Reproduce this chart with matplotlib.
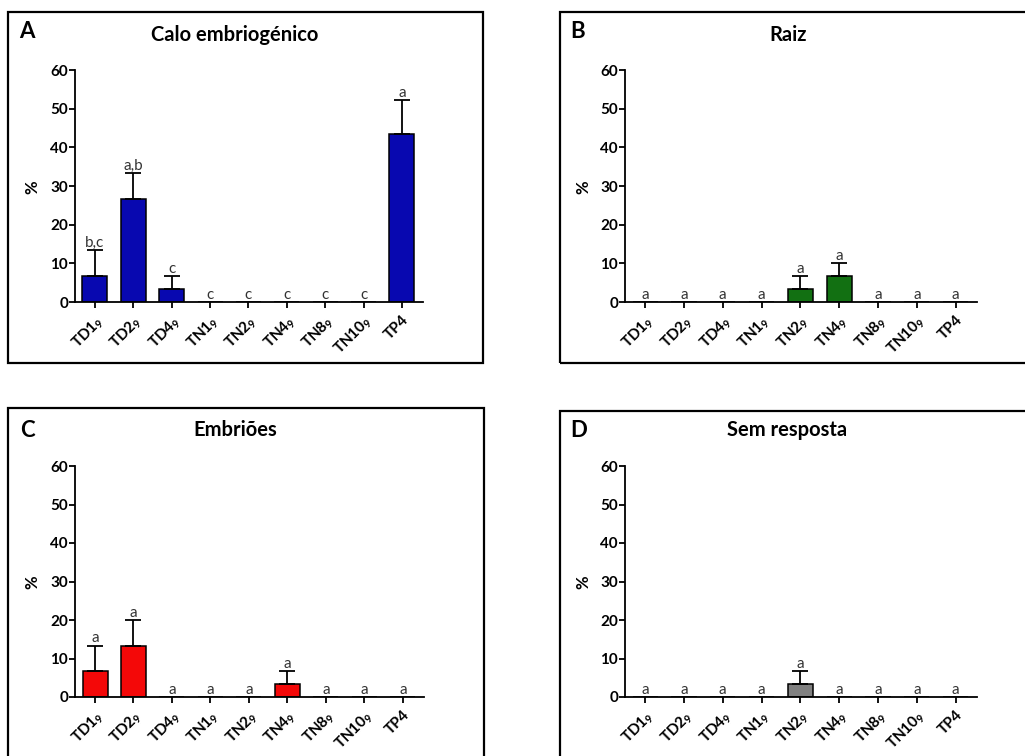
import numpy as np
import matplotlib
matplotlib.use('Agg')
import matplotlib.pyplot as plt
from matplotlib.patches import Rectangle


# ══════════════════════════════════════════════
# DATA
# ══════════════════════════════════════════════

categories = ['TD1$_{9}$', 'TD2$_{9}$', 'TD4$_{9}$', 'TN1$_{9}$', 'TN2$_{9}$',
              'TN4$_{9}$', 'TN8$_{9}$', 'TN10$_{9}$', 'TP4']

calo_mean = [6.67, 26.67, 3.33, 0, 0, 0, 0, 0, 43.33]
calo_err  = [6.67, 6.67, 3.33, 0, 0, 0, 0, 0, 8.82]
calo_let  = ['b,c', 'a,b', 'c', 'c', 'c', 'c', 'c', 'c', 'a']

raiz_mean = [0, 0, 0, 0, 3.33, 6.67, 0, 0, 0]
raiz_err  = [0, 0, 0, 0, 3.33, 3.33, 0, 0, 0]
raiz_let  = ['a'] * 9

embr_mean = [6.67, 13.33, 0, 0, 0, 3.33, 0, 0, 0]
embr_err  = [6.67, 6.67, 0, 0, 0, 3.33, 0, 0, 0]
embr_let  = ['a'] * 9

sem_mean = [0, 0, 0, 0, 3.33, 0, 0, 0, 0]
sem_err  = [0, 0, 0, 0, 3.33, 0, 0, 0, 0]
sem_let  = ['a'] * 9

titles = ['Calo embriogénico', 'Raiz', 'Embriões', 'Sem resposta']
panel_ids = ['A', 'B', 'C', 'D']


# ══════════════════════════════════════════════
# STYLE
# ══════════════════════════════════════════════

plt.rcParams['font.family'] = ['Lato', 'DejaVu Sans']
plt.rcParams['mathtext.fontset'] = 'custom'
plt.rcParams['mathtext.rm'] = 'Lato'
plt.rcParams['mathtext.it'] = 'Lato'
plt.rcParams['mathtext.default'] = 'regular'

W, H = 1025, 756
fig = plt.figure(figsize=(W / 100, H / 100), dpi=100)


def fx(x):
    return x / W


def fy(y):
    return 1 - y / H


def add_ax(x0, y0, x1, y1):
    return fig.add_axes([fx(x0), fy(y1), fx(x1) - fx(x0), fy(y0) - fy(y1)])


# ── panel frames ──────────────────────────────
frames = [(8, 12, 483, 363), (560, 12, 1032, 363),
          (8, 408, 484, 762), (560, 411, 1032, 762)]
for (x0, y0, x1, y1) in frames:
    fig.patches.append(Rectangle((fx(x0), fy(y1)), fx(x1) - fx(x0), fy(y0) - fy(y1),
                                 transform=fig.transFigure, fill=False,
                                 edgecolor='black', linewidth=1.6))

# ── axes positions ────────────────────────────
ax_boxes = [(75, 70, 423, 302), (625, 70, 977, 302),
            (75, 466, 424, 697), (625, 466, 977, 697)]
title_pos = [(235, 35), (788, 35), (235, 430), (787, 430)]
letter_pos = [(27, 31), (578, 31), (27, 430), (579, 430)]
ylab_pos = [(32, 187), (583, 187), (32, 582), (583, 582)]

means = [calo_mean, raiz_mean, embr_mean, sem_mean]
errs = [calo_err, raiz_err, embr_err, sem_err]
lets = [calo_let, raiz_let, embr_let, sem_let]
colors = ['#0808b0', '#127012', '#f40808', '#808080']

x = np.arange(len(categories))

for i in range(4):
    ax = add_ax(*ax_boxes[i])
    m = np.array(means[i])
    e = np.array(errs[i])

    ax.bar(x, m, width=0.65, color=colors[i], edgecolor='black',
           linewidth=1.1, zorder=2)
    has = e > 0
    ax.errorbar(x[has], m[has], yerr=[np.zeros(has.sum()), e[has]],
                fmt='none', ecolor='black', elinewidth=1.3, capsize=6,
                capthick=1.3, zorder=3)

    for xi, top, lab in zip(x, m + e, lets[i]):
        ax.annotate(lab, (xi, top), xytext=(0, 2.5), textcoords='offset points',
                    ha='center', va='baseline', fontsize=11, color='#333333')

    ax.set_xlim(-0.52, 8.55)
    ax.set_ylim(0, 60)
    ax.set_yticks(np.arange(0, 61, 10))
    ax.set_xticks(x)
    ax.set_xticklabels(categories, rotation=45, ha='right',
                       rotation_mode='anchor', fontsize=11, fontweight='bold')
    for t in ax.get_yticklabels():
        t.set_fontweight('bold')
        t.set_fontsize(11)

    for s in ['top', 'right']:
        ax.spines[s].set_visible(False)
    for s in ['left', 'bottom']:
        ax.spines[s].set_linewidth(1.3)
    ax.tick_params(direction='out', length=4, width=1.3, pad=1)
    ax.tick_params(axis='x', pad=4)
    ax.patch.set_alpha(0)

    tx, ty = title_pos[i]
    fig.text(fx(tx), fy(ty), titles[i], ha='center', va='center',
             fontsize=14.5, fontweight='bold')
    lx, ly = letter_pos[i]
    fig.text(fx(lx), fy(ly), panel_ids[i], ha='center', va='center',
             fontsize=16, fontweight='bold')
    yx, yy = ylab_pos[i]
    fig.text(fx(yx), fy(yy), '%', ha='center', va='center', rotation=90,
             fontsize=12, fontweight='bold')

fig.savefig('out.png', dpi=100)
